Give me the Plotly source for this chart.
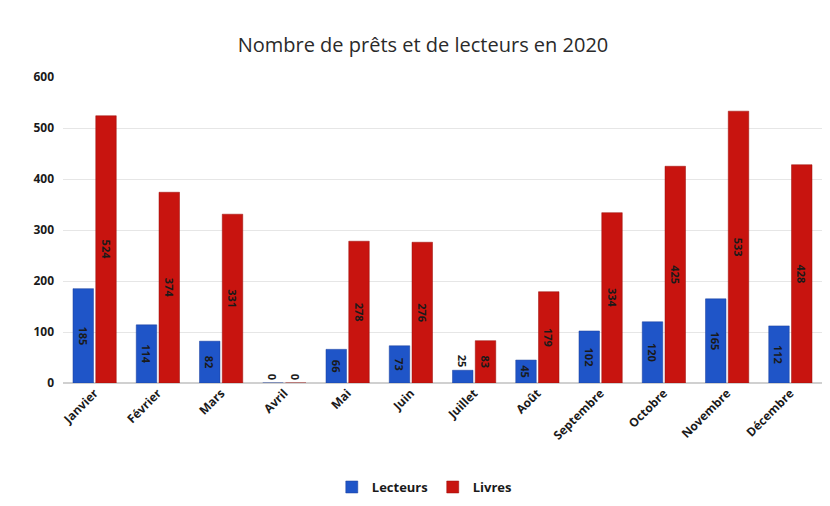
import plotly.graph_objects as go

mois = ["Janvier", "Février", "Mars", "Avril", "Mai", "Juin", "Juillet", "Août",
        "Septembre", "Octobre", "Novembre", "Décembre"]
lecteurs = [185, 114, 82, 0, 66, 73, 25, 45, 102, 120, 165, 112]
livres = [524, 374, 331, 0, 278, 276, 83, 179, 334, 425, 533, 428]

font_fam = "Open Sans, Liberation Sans, sans-serif"

def txtpos(vals):
    return ["outside" if v < 40 else "inside" for v in vals]

fig = go.Figure()
fig.add_bar(x=mois, y=lecteurs, name="Lecteurs", marker_color="#1f55c8",
            marker_line=dict(color="#1a3f9a", width=0.5),
            text=[str(v) for v in lecteurs], textposition=txtpos(lecteurs),
            textangle=90, insidetextanchor="middle", constraintext="none",
            textfont=dict(size=11, color="#1a1a1a", family=font_fam, weight="bold"),
            cliponaxis=False)
fig.add_bar(x=mois, y=livres, name="Livres", marker_color="#c8140f",
            marker_line=dict(color="#9a0f0a", width=0.5),
            text=[str(v) for v in livres], textposition=txtpos(livres),
            textangle=90, insidetextanchor="middle", constraintext="none",
            textfont=dict(size=11, color="#1a1a1a", family=font_fam, weight="bold"),
            cliponaxis=False)

fig.update_layout(
    width=830, height=506,
    paper_bgcolor="white", plot_bgcolor="white",
    title=dict(text="Nombre de prêts et de lecteurs en 2020", x=0.5, xanchor="center",
               y=0.927, yanchor="middle",
               font=dict(size=20, color="#2a2a2a", family=font_fam)),
    margin=dict(l=55, r=16, t=69, b=131, autoexpand=False),
    barmode="group", bargap=0.28, bargroupgap=0.1,
    showlegend=True,
    legend=dict(orientation="h", x=0.476, xanchor="center", y=-0.34, yanchor="middle",
                font=dict(size=13, color="#1a1a1a", family=font_fam, weight="bold"),
                itemwidth=30, traceorder="normal", tracegroupgap=0),
    font=dict(family=font_fam),
)
fig.update_yaxes(range=[0, 600], dtick=100, showgrid=True, gridcolor="#e6e6e6",
                 zeroline=True, zerolinecolor="#d0d0d0", ticks="", automargin=False,
                 tickfont=dict(size=12, color="#1a1a1a", family=font_fam, weight="bold"),
                 ticklabelstandoff=8)
fig.update_xaxes(tickangle=-45, showline=False, automargin=False,
                 tickfont=dict(size=12, color="#1a1a1a", family=font_fam, weight="bold"))

fig.write_html("out.html")
